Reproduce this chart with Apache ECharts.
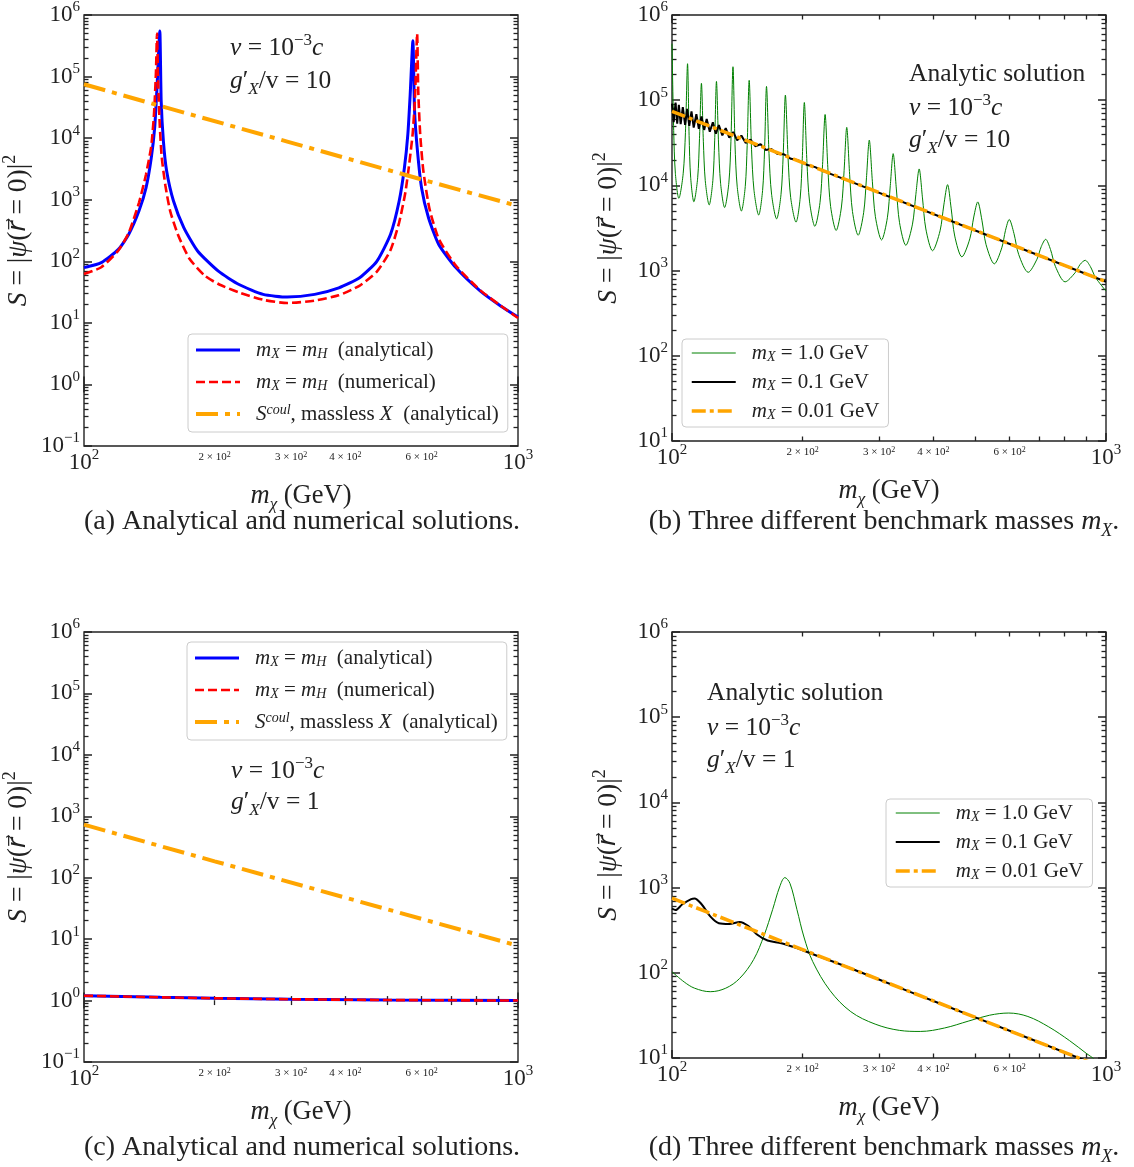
<!DOCTYPE html>
<html>
<head>
<meta charset="utf-8">
<title>Sommerfeld factor vs dark matter mass</title>
<script src="https://cdn.jsdelivr.net/npm/echarts@6/dist/echarts.min.js"></script>
<style>
html, body { margin: 0; padding: 0; background: #fff; }
#chart { width: 1134px; height: 1167px; }
</style>
</head>
<body>
<div id="chart"></div>
<script>
// values as [m_chi (GeV), S]

// (a) g'/v = 10, m_X = m_H
var a_analytical = [[100, 79], [109.6, 95], [120, 156], [126.8, 275], [133.9, 660], [139, 1570], [142.9, 4800],
    [145.5, 1.48e4], [147.3, 6.6e4], [149.5, 5.5e5], [150.6, 4e4], [152.4, 8900], [155, 2950], [160.7, 960],
    [169.8, 352], [182.7, 147], [204, 69], [227.6, 42], [258.7, 29], [294, 26.3], [340, 29], [386.5, 37],
    [431.5, 54], [472.8, 100], [508.6, 275], [532.5, 960], [547.4, 3300], [557.4, 1.15e4], [564.4, 5.1e4],
    [572.5, 3.8e5], [577.7, 2.75e4], [586.6, 6200], [599.4, 1570], [622, 510], [656.7, 188], [719, 79],
    [818, 33], [912, 18.8], [1000, 12.4]];
var a_numerical = [[100, 62], [109.6, 80], [120, 150], [126.8, 290], [133.9, 900], [139, 2600], [142.9, 7500],
    [145, 2.5e4], [146.5, 1.2e5], [147.3, 5e5], [148.2, 8e4], [149.5, 1.6e4], [151, 5000], [154, 1700],
    [158, 650], [165, 260], [175, 110], [190, 58], [205, 42], [228, 31], [260, 23.5], [294, 21], [340, 23],
    [386, 28], [431, 40], [473, 68], [508, 150], [532, 420], [550, 1300], [562, 4000], [572, 1.2e4],
    [579, 4.5e4], [585.6, 5e5], [589, 6e4], [595, 1.2e4], [605, 3000], [625, 720], [657, 230], [719, 85],
    [818, 34], [912, 19], [1000, 12]];
var a_coulomb = [[100, 7.5e4], [149.5, 3.35e4], [294, 8800], [599, 2140], [1000, 790]];

// (b) g'/v = 10, three mediator masses
var b_mx1 = [[100, 4.6e5],
    [100.9, 4.4e4], [101.8, 1.39e4], [103.7, 7050], [106.1, 1.37e4], [107.4, 4.2e4], [108.6, 2.68e5],
    [109.5, 3.85e4], [110.4, 1.25e4], [112.3, 6430], [114.6, 1.23e4], [115.7, 3.55e4], [116.9, 1.58e5],
    [118.1, 3.3e4], [119.3, 1.14e4], [121.8, 5900], [124.2, 1.14e4], [125.4, 3.33e4], [126.6, 1.66e5],
    [128.0, 3.15e4], [129.4, 1.06e4], [132.2, 5500], [135.2, 1.07e4], [136.7, 3.3e4], [138.2, 2.47e5],
    [139.7, 3.05e4], [141.3, 9800], [144.5, 5000], [147.5, 9700], [149.0, 2.92e4], [150.6, 1.71e5],
    [152.5, 2.66e4], [154.5, 8760], [158.4, 4490], [161.7, 8700], [163.4, 2.6e4], [165.1, 1.45e5],
    [167.3, 2.38e4], [169.6, 7900], [174.2, 4050], [178.3, 7800], [180.4, 2.29e4], [182.5, 1.15e5],
    [185.1, 2.13e4], [187.7, 7200], [193.1, 3700], [197.4, 7100], [199.6, 2.05e4], [201.8, 9.4e4],
    [204.6, 1.87e4], [207.5, 6400], [213.4, 3310], [219.3, 6300], [222.3, 1.76e4], [225.3, 6.8e4],
    [228.6, 1.61e4], [232.0, 5650], [238.9, 2960], [245.7, 5580], [249.2, 1.49e4], [252.7, 4.8e4],
    [256.6, 1.35e4], [260.5, 4940], [268.5, 2600], [276.5, 4830], [280.6, 1.23e4], [284.8, 3.4e4],
    [289.5, 1.12e4], [294.2, 4290], [304, 2290], [313.5, 4170], [318.4, 9980], [323.3, 2.36e4],
    [328.8, 9080], [334.4, 3650], [345.8, 1980], [358.2, 3510], [364.6, 7780], [371.1, 1.56e4],
    [377.7, 7130], [384.5, 3080], [398.4, 1710], [414.6, 2930], [423, 5900], [431.5, 1.02e4],
    [439.7, 5410], [448.2, 2540], [465.5, 1450], [485.5, 2360], [495.8, 4260], [506.4, 6400],
    [517.7, 3910], [529.2, 2020], [553, 1200], [575.3, 1850], [586.7, 2970], [598.4, 3980],
    [613.7, 2720], [629.4, 1540], [662, 955], [693.3, 1360], [709.5, 1920], [726, 2330],
    [744.9, 1770], [764.5, 1120], [805, 738], [849, 945], [872, 1185], [895.5, 1320],
    [920, 1120], [946, 830], [1000, 575]];
var b_mx01 = [[100, 9.1e4], [100.9, 5.51e4], [101.9, 9.4e4], [102.8, 5.31e4], [103.7, 8.85e4], [104.7, 5.24e4],
    [105.9, 8.3e4], [107.2, 5.12e4], [108.4, 7.93e4], [109.6, 5.0e4], [110.9, 7.4e4], [112.2, 4.78e4],
    [113.8, 6.87e4], [115.3, 4.62e4], [116.9, 6.43e4], [118.6, 4.48e4], [120.2, 6.01e4], [122.2, 4.27e4],
    [124.2, 5.51e4], [126.2, 4.05e4], [128.2, 5.11e4], [130.6, 3.86e4], [133.0, 4.69e4], [135.5, 3.63e4],
    [138.4, 4.24e4], [141.3, 3.38e4], [144.5, 3.84e4], [147.9, 3.15e4], [151.7, 3.44e4], [155.6, 2.88e4],
    [160.0, 3.04e4], [164.4, 2.61e4], [169.4, 2.68e4], [175.0, 2.33e4], [181.1, 2.32e4], [187.9, 2.05e4],
    [195.4, 1.97e4], [204.2, 1.75e4], [213.8, 1.64e4], [223.9, 1.46e4], [251.2, 1.17e4], [500, 2960], [1000, 740]];
var b_mx001 = [[100, 7.4e4], [200, 1.85e4], [400, 4630], [1000, 740]];

// (c) g'/v = 1, m_X = m_H
var c_analytical = [[100, 1.2], [150, 1.13], [200, 1.09], [300, 1.05], [500, 1.02], [1000, 1.0]];
var c_numerical = [[100, 1.2], [150, 1.13], [200, 1.09], [300, 1.05], [500, 1.02], [1000, 1.0]];
var c_coulomb = [[100, 730], [200, 185], [400, 47.5], [1000, 7.8]];

// (d) g'/v = 1, three mediator masses
var d_mx1 = [[100, 103], [106.7, 78], [112.7, 66], [122.5, 60], [133, 66], [143.2, 86], [154.2, 143], [163, 275],
    [170.6, 555], [177, 1017], [182, 1310], [187, 1120], [194, 555], [201.4, 263], [210.9, 136], [231.2, 62],
    [258.2, 35], [293.8, 25], [334.2, 21.1], [373.3, 20.5], [424.6, 22.5], [483, 27.2], [539.5, 31.8],
    [597, 33.7], [660.7, 30.7], [738, 23.2], [824, 16], [903.6, 11.2], [937, 9.8], [1000, 7]];
var d_mx01 = [[100, 565], [101.9, 545], [105.7, 638], [110.7, 733], [112.7, 747], [117, 638], [122.5, 460],
    [128.2, 382], [135.5, 374], [143.2, 396], [150, 354], [157, 282], [166, 239], [178.6, 222], [192.2, 198],
    [206.9, 172], [250, 120], [350, 61], [500, 30], [1000, 7.5]];
var d_mx001 = [[100, 750], [200, 187.5], [400, 46.9], [1000, 7.5]];

// axis decorations
var tick_mult = [2, 3, 4, 5, 6, 7, 8, 9];
var x_label_mult = [2, 3, 4, 6];

var INK = '#222';
var FONT = '"Liberation Serif", "DejaVu Serif", serif';

var panels = [
    {grid: {left: 84, top: 14, width: 434, height: 432}, ymin: -1, ymax: 6},
    {grid: {left: 672, top: 13, width: 434, height: 428}, ymin: 1, ymax: 6},
    {grid: {left: 84, top: 632, width: 434, height: 430}, ymin: -1, ymax: 6},
    {grid: {left: 672, top: 632, width: 434, height: 426}, ymin: 1, ymax: 6}
];

function rich(size, lh) {
    var s = Math.round(size * 0.66);
    lh = lh || Math.round(size * 1.3);
    return {
        i: {fontFamily: FONT, fontSize: size, fontStyle: 'italic', lineHeight: lh},
        sup: {fontFamily: FONT, fontSize: s, lineHeight: s, verticalAlign: 'top'},
        isup: {fontFamily: FONT, fontSize: s, fontStyle: 'italic', lineHeight: s, verticalAlign: 'top'},
        sub: {fontFamily: FONT, fontSize: s, fontStyle: 'italic', lineHeight: s, verticalAlign: 'bottom'},
        vec: {fontFamily: '"DejaVu Sans", sans-serif', fontSize: size - 3, fontStyle: 'italic', lineHeight: lh},
        g: {width: 11}
    };
}

function text_style(size, lh) {
    lh = lh || Math.round(size * 1.3);
    return {fontFamily: FONT, fontSize: size, color: INK, lineHeight: lh, rich: rich(size, lh)};
}

function minor_values(lo, hi) {
    var out = [];
    for (var e = lo; e < hi; e++) {
        tick_mult.forEach(function (k) { out.push(e + Math.log10(k)); });
    }
    return out;
}

function pow_label(v) {
    return '10{sup|' + (v < 0 ? '\u2212' + (-v) : v) + '}';
}

function axis(g, min, max, pos, opts) {
    var a = {
        type: 'value', gridIndex: g, min: min, max: max, position: pos,
        axisLine: {show: false}, splitLine: {show: false},
        axisTick: {show: false}, axisLabel: {show: false}
    };
    for (var k in opts) a[k] = opts[k];
    return a;
}

function major_tick() { return {show: true, inside: true, length: 8, lineStyle: {color: INK, width: 1.5}}; }
function minor_tick(vals) { return {show: true, inside: true, length: 4.5, customValues: vals, lineStyle: {color: INK, width: 1.3}}; }

var x_axes = [], y_axes = [];
panels.forEach(function (p, g) {
    var xs = minor_values(2, 3), ys = minor_values(p.ymin, p.ymax);
    var lab = text_style(23);
    x_axes.push(
        axis(g, 2, 3, 'bottom', {
            interval: 1, axisTick: major_tick(),
            axisLabel: Object.assign({show: true, margin: 2, formatter: pow_label}, lab),
            name: '{i|m}{sub|\u03c7} (GeV)', nameLocation: 'middle', nameGap: 15,
            nameTextStyle: text_style(26.5)
        }),
        axis(g, 2, 3, 'bottom', {
            axisTick: minor_tick(xs),
            axisLabel: {
                show: true, margin: 5, fontFamily: FONT, fontSize: 11, color: INK, lineHeight: 13,
                customValues: x_label_mult.map(function (k) { return 2 + Math.log10(k); }),
                formatter: function (v) { return Math.round(Math.pow(10, v - 2)) + ' \u00d7 10{s|2}'; },
                rich: {s: {fontFamily: FONT, fontSize: 8, lineHeight: 8, verticalAlign: 'top'}}
            }
        }),
        axis(g, 2, 3, 'top', {interval: 1, axisTick: major_tick()}),
        axis(g, 2, 3, 'top', {axisTick: minor_tick(xs)})
    );
    y_axes.push(
        axis(g, p.ymin, p.ymax, 'left', {
            interval: 1, axisTick: major_tick(),
            axisLabel: Object.assign({show: true, margin: 4, formatter: pow_label}, lab),
            name: '{i|S} = |{i|\u03c8}({vec|r\u20d7} = 0)|{sup|2}', nameLocation: 'middle', nameRotate: 90,
            nameGap: 45, nameTextStyle: text_style(27.5)
        }),
        axis(g, p.ymin, p.ymax, 'left', {axisTick: minor_tick(ys)}),
        axis(g, p.ymin, p.ymax, 'right', {interval: 1, axisTick: major_tick()}),
        axis(g, p.ymin, p.ymax, 'right', {axisTick: minor_tick(ys)})
    );
});

var styles = {
    ana: {color: '#0000ff', width: 3, type: 'solid'},
    num: {color: '#ff0000', width: 2.6, type: [9, 4]},
    coul: {color: '#ffa500', width: 4, type: [22, 7, 5, 7]},
    g1: {color: '#008000', width: 1, type: 'solid'},
    g01: {color: '#000000', width: 2, type: 'solid'},
    g001: {color: '#ffa500', width: 3.5, type: [14, 4, 4, 4]}
};

function to_log(arr) {
    return arr.map(function (p) { return [Math.log10(p[0]), Math.log10(p[1])]; });
}

function line(name, data, g, smooth) {
    return {
        type: 'line', name: name, xAxisIndex: 4 * g, yAxisIndex: 4 * g,
        data: to_log(data), symbol: 'none', showSymbol: false,
        smooth: smooth || false,
        lineStyle: styles[name], itemStyle: {color: styles[name].color},
        animation: false, silent: true
    };
}

var series = [
    line('ana', a_analytical, 0, 0.2), line('num', a_numerical, 0, 0.2), line('coul', a_coulomb, 0),
    line('g1', b_mx1, 1, 0.3), line('g01', b_mx01, 1), line('g001', b_mx001, 1),
    line('ana', c_analytical, 2), line('num', c_numerical, 2), line('coul', c_coulomb, 2),
    line('g1', d_mx1, 3, 0.35), line('g01', d_mx01, 3, 0.3), line('g001', d_mx001, 3)
];

var legend_text = {
    ana: '{g| }{i|m}{sub|X} = {i|m}{sub|H}  (analytical)',
    num: '{g| }{i|m}{sub|X} = {i|m}{sub|H}  (numerical)',
    coul: '{g| }{i|S}{isup|coul}, massless {i|X}  (analytical)',
    g1: '{g| }{i|m}{sub|X} = 1.0 GeV',
    g01: '{g| }{i|m}{sub|X} = 0.1 GeV',
    g001: '{g| }{i|m}{sub|X} = 0.01 GeV'
};

function legend(names, left, top, gap, pad) {
    return {
        orient: 'vertical', left: left, top: top, itemWidth: 44, itemHeight: 14, itemGap: gap,
        padding: pad, borderColor: '#cccccc', borderWidth: 1, borderRadius: 4,
        backgroundColor: '#ffffff', selectedMode: false,
        data: names.map(function (n) {
            return {name: n, lineStyle: {width: styles[n].width}, itemStyle: {opacity: 0}};
        }),
        formatter: function (n) { return legend_text[n]; },
        textStyle: text_style(21, 22)
    };
}

var v_text = '{i|v} = 10{sup|\u22123}{i|c}';
var notes = [
    [230, 49, v_text], [230, 82, '{i|g}\u2032{sub|X}/v = 10'],
    [909, 75, 'Analytic solution'], [909, 109, v_text], [909, 141, '{i|g}\u2032{sub|X}/v = 10'],
    [231, 772, v_text], [231, 803, '{i|g}\u2032{sub|X}/v = 1'],
    [707, 694, 'Analytic solution'], [707, 729, v_text], [707, 761, '{i|g}\u2032{sub|X}/v = 1']
];
var captions = [
    [302, 522, '(a) Analytical and numerical solutions.'],
    [884, 522, '(b) Three different benchmark masses {i|m}{sub|X}.'],
    [302, 1148, '(c) Analytical and numerical solutions.'],
    [884, 1148, '(d) Three different benchmark masses {i|m}{sub|X}.']
];

var titles = [];
notes.forEach(function (n) {
    titles.push({text: n[2], left: n[0], top: n[1] - 17, padding: 0,
        textStyle: Object.assign({fontWeight: 'normal'}, text_style(25.5))});
});
captions.forEach(function (c) {
    titles.push({text: c[2], left: c[0], top: c[1] - 18, padding: 0, textAlign: 'center',
        textStyle: Object.assign({fontWeight: 'normal'}, text_style(28))});
});

var chart = echarts.init(document.getElementById('chart'), null, {renderer: 'canvas'});
chart.setOption({
    backgroundColor: '#ffffff',
    animation: false,
    title: titles,
    grid: panels.map(function (p) {
        return Object.assign({show: true, borderColor: INK, borderWidth: 1.4, backgroundColor: 'transparent', containLabel: false}, p.grid);
    }),
    xAxis: x_axes,
    yAxis: y_axes,
    legend: [
        legend(['ana', 'num', 'coul'], 188, 334, 10, [5, 9, 7, 6]),
        legend(['g1', 'g01', 'g001'], 682, 339, 7, [3, 9, 5, 8]),
        legend(['ana', 'num', 'coul'], 187, 642, 10, [5, 9, 7, 6]),
        legend(['g1', 'g01', 'g001'], 886, 799, 7, [3, 9, 5, 8])
    ],
    series: series
});
</script>
</body>
</html>
